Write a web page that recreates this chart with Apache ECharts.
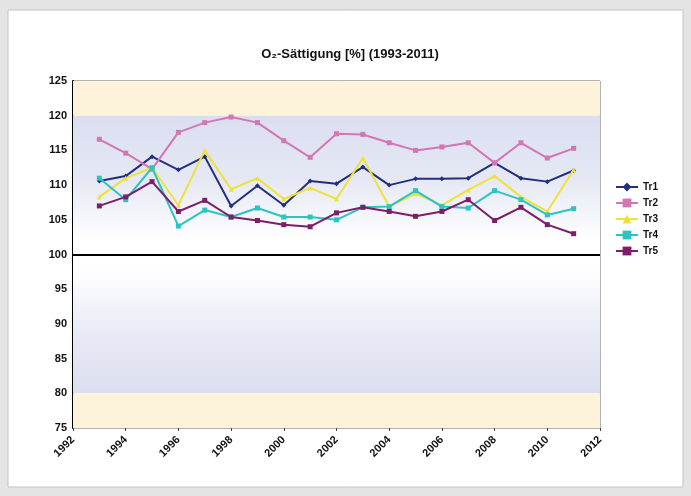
<!DOCTYPE html>
<html><head><meta charset="utf-8">
<script src="https://cdn.jsdelivr.net/npm/echarts@6/dist/echarts.min.js"></script>
<style>html,body{margin:0;padding:0;background:#e4e4e4;}#c{width:691px;height:496px;}</style>
</head><body><div id="c"></div>
<script>
const years = [1993,1994,1995,1996,1997,1998,1999,2000,2001,2002,2003,2004,2005,2006,2007,2008,2009,2010,2011];
const tr1 = [110.6,111.3,114.1,112.2,114.1,107.0,109.9,107.1,110.6,110.2,112.6,110.0,110.9,110.9,111.0,113.2,111.0,110.5,112.1];
const tr2 = [116.6,114.6,112.3,117.6,119.0,119.8,119.0,116.4,114.0,117.4,117.3,116.1,115.0,115.5,116.1,113.2,116.1,113.9,115.3];
const tr3 = [108.3,111.0,112.5,107.1,115.0,109.4,111.0,108.0,109.6,108.0,113.9,106.9,108.8,107.1,109.3,111.3,108.3,106.2,112.2];
const tr4 = [111.0,107.9,112.5,104.1,106.4,105.4,106.7,105.4,105.4,105.0,106.8,106.9,109.2,106.9,106.7,109.2,107.9,105.7,106.6];
const tr5 = [107.0,108.3,110.5,106.2,107.8,105.4,104.9,104.3,104.0,106.0,106.8,106.2,105.5,106.2,107.9,104.9,106.8,104.3,103.0];
const names = ['Tr1','Tr2','Tr3','Tr4','Tr5'];
const colors = ['#232f7c','#d276b4','#eee23a','#2cc4c0','#7e1e68'];
const symbols = ['diamond','rect','triangle','rect','rect'];
const seriesData = [tr1,tr2,tr3,tr4,tr5];

const chart = echarts.init(document.getElementById('c'));
const blueDown = new echarts.graphic.LinearGradient(0,0,0,1,[
  {offset:0,color:'#dbdef0'},{offset:0.45,color:'#e5e8f4'},{offset:0.9,color:'#ffffff'},{offset:1,color:'#ffffff'}]);
const blueUp = new echarts.graphic.LinearGradient(0,0,0,1,[
  {offset:0,color:'#ffffff'},{offset:0.1,color:'#ffffff'},{offset:0.55,color:'#e9ebf5'},{offset:1,color:'#dbdef0'}]);
const series = names.map((n,i)=>({
  name:n, type:'line', data: years.map((y,j)=>[y, seriesData[i][j]]),
  symbol: symbols[i], symbolSize: 5, lineStyle:{width:2,color:colors[i]},
  itemStyle:{color:colors[i]}, z: 3+i
}));
series.unshift({
  type:'line', data:[], silent:true, z:1,
  markArea:{silent:true, data:[
    [{yAxis:125,itemStyle:{color:'#fdf3da'}},{yAxis:120}],
    [{yAxis:120,itemStyle:{color:blueDown}},{yAxis:100}],
    [{yAxis:100,itemStyle:{color:blueUp}},{yAxis:80}],
    [{yAxis:80,itemStyle:{color:'#fdf3da'}},{yAxis:75}]
  ]},
  markLine:{silent:true, symbol:'none', label:{show:false}, lineStyle:{color:'#000',width:2,type:'solid'}, data:[{yAxis:100}]}
});
chart.setOption({
  animation:false,
  backgroundColor:'#e4e4e4',
  graphic:[{type:'rect', z:-10, shape:{x:8,y:10,width:675,height:477}, style:{fill:'#ffffff',stroke:'#c4c4c4',lineWidth:1}}],
  title:{text:'O₂-Sättigung [%] (1993-2011)', left:345, textAlign:'center', top:43,
    textStyle:{fontFamily:'Liberation Sans',fontWeight:'bold',fontSize:13,color:'#111'}},
  legend:{orient:'vertical', left:610, top:177, itemGap:6, itemWidth:22, itemHeight:11,
    data:names, textStyle:{fontFamily:'Liberation Sans',fontWeight:'bold',fontSize:10,color:'#111'}},
  grid:{left:73, right:91, top:81, bottom:68, show:true, borderColor:'#666', borderWidth:1, backgroundColor:'transparent'},
  xAxis:{type:'value', min:1992, max:2012, interval:2, splitLine:{show:false},
    axisLine:{show:false}, axisTick:{show:true,length:3,lineStyle:{color:'#444'}},
    axisLabel:{rotate:45, margin:10, fontFamily:'Liberation Sans', fontWeight:'bold', fontSize:11, color:'#111', formatter:v=>String(v)}},
  yAxis:{type:'value', min:75, max:125, interval:5, splitLine:{show:false},
    axisLine:{show:true,lineStyle:{color:'#000',width:2}}, axisTick:{show:false},
    axisLabel:{fontFamily:'Liberation Sans', fontWeight:'bold', fontSize:11, color:'#111', margin:6}},
  series: series
});
</script></body></html>
